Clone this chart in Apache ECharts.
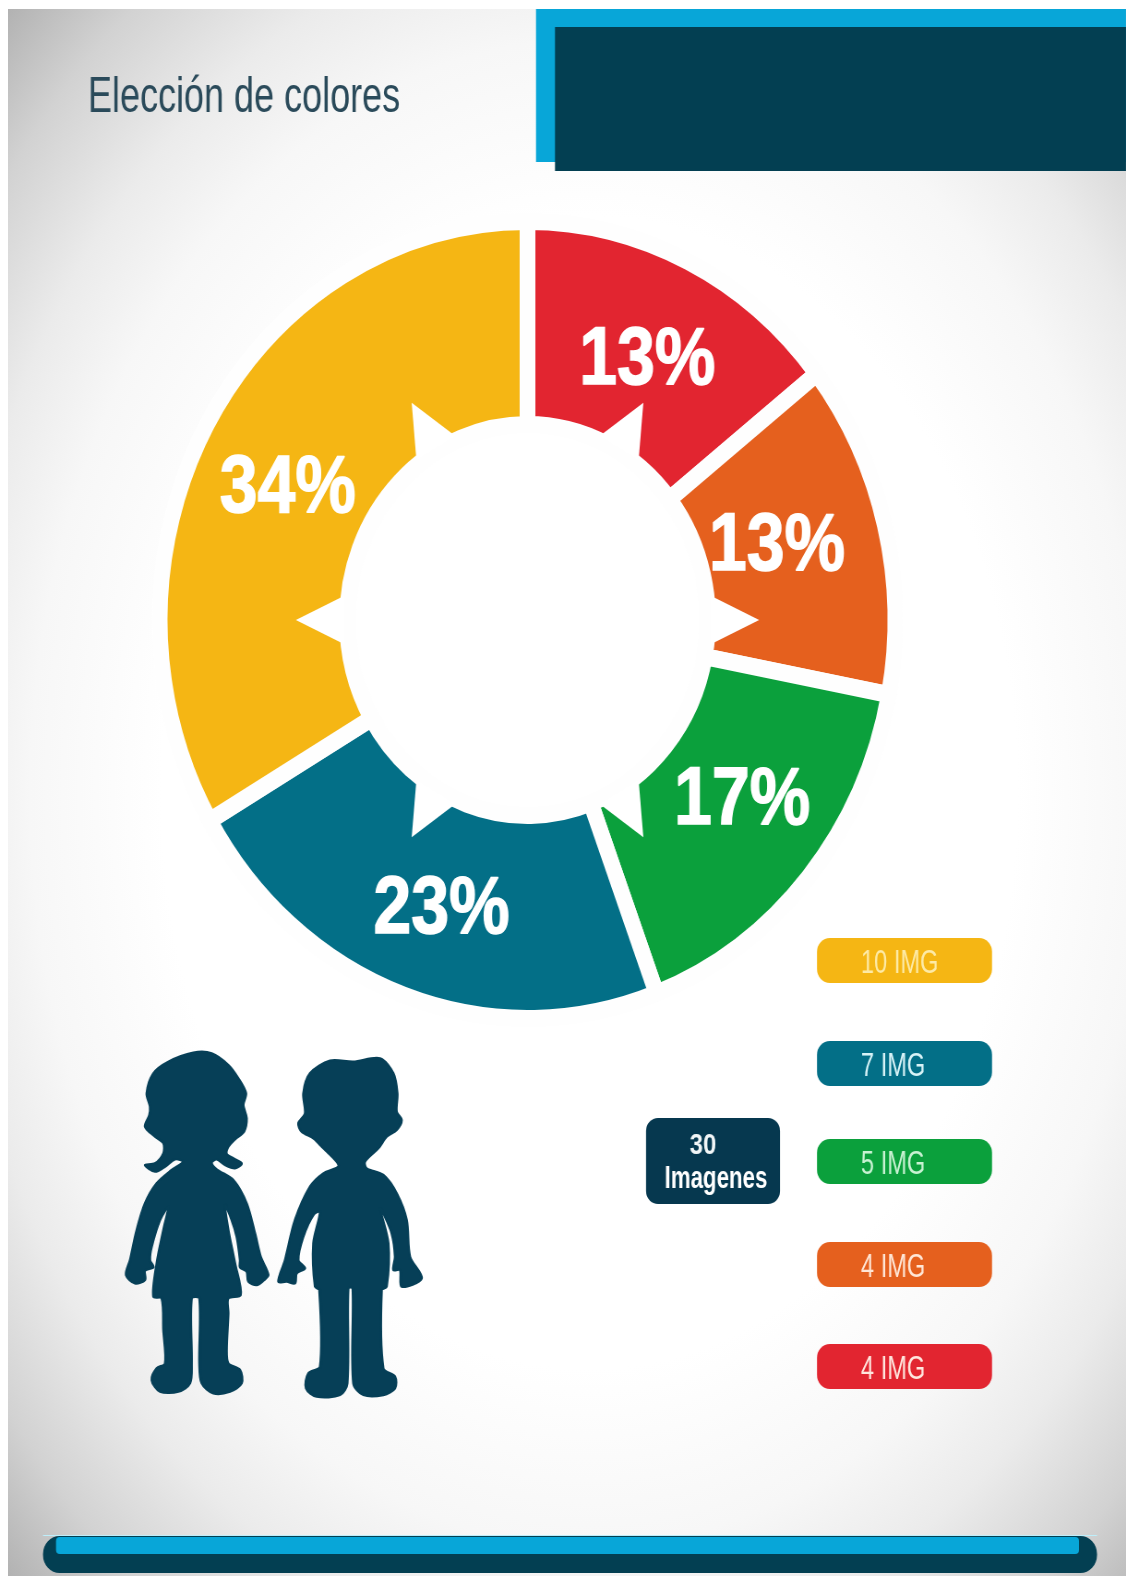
<!DOCTYPE html>
<html><head><meta charset="utf-8">
<style>
html,body{margin:0;padding:0;width:1126px;height:1576px;overflow:hidden;background:#fff}
#bg{position:absolute;left:8px;top:9px;width:1118px;height:1567px;
background:radial-gradient(farthest-corner at 52% 50%,#fff 0%,#fff 52%,#f7f7f7 68%,#ebebeb 78%,#d2d2d2 90%,#b2b2b2 100%)}
#c{position:absolute;left:0;top:0;width:1220px;height:1576px;transform:scaleX(0.923);transform-origin:0 0}
</style>
<script src="https://cdn.jsdelivr.net/npm/echarts@6/dist/echarts.min.js"></script>
</head><body><div id="bg"></div><div id="c"></div>
<script>
// Data
const sliceNames = ['Rojo','Naranja','Verde','Azul','Amarillo'];
const sliceShares = [14.4,13.6,16.3,22.3,33.4];
const percentLabels = ['13%','13%','17%','23%','34%'];
const legendNames = ['Amarillo','Azul','Verde','Naranja','Rojo'];
const legendCounts = [10,7,5,4,4];
const totalCount = 30;
const titleText = 'Elección de colores';

// Style / layout
const S = 0.923, X = p => p / S;
const FONT = '"Liberation Sans",Arial,sans-serif';
const colors = {Rojo:'#e22530',Naranja:'#e5601e',Verde:'#0ba03c',Azul:'#036f87',Amarillo:'#f5b614'};
const legendTextColors = {Rojo:'#ffe6de',Naranja:'#ffe6d6',Verde:'#c8f2d2',Azul:'#d8f3f7',Amarillo:'#fdeaa6'};
const labelOffsets = [[0,9],[-17,-2],[5,-10],[6,11],[-2,18]];
const legendTops = [938,1041,1139,1242,1344];
const DARK = '#033f52', BLUE = '#08a6d8';
const cx = X(527.5), cy = 620, R_IN = 195.5, R_OUT = 398.5, GAP = 17;

const girl = [[280,68],[335,70],[385,105],[415,145],[438,190],[430,225],[440,265],[432,305],[405,328],[385,350],[380,372],[400,385],[425,400],[405,415],[375,405],[350,388],[335,398],[350,418],[400,450],[440,520],[465,610],[482,680],[505,735],[490,752],[470,765],[445,755],[440,725],[420,712],[420,690],[410,620],[395,570],[375,525],[385,600],[405,700],[422,795],[385,805],[385,850],[380,960],[385,1000],[420,1020],[425,1060],[390,1085],[340,1090],[305,1060],[298,1000],[298,805],[275,805],[275,1000],[270,1060],[235,1085],[180,1085],[155,1050],[170,1015],[195,1000],[190,900],[185,805],[160,800],[170,700],[190,600],[205,530],[180,570],[155,650],[150,690],[160,712],[135,722],[135,750],[105,760],[78,735],[90,690],[110,600],[135,520],[170,460],[215,420],[250,395],[225,388],[195,410],[165,425],[135,405],[165,400],[190,370],[190,340],[165,320],[135,290],[148,255],[150,230],[140,190],[160,130],[205,95]];
const boy = [[690,92],[760,95],[840,85],[880,130],[892,190],[890,245],[905,270],[890,300],[860,320],[835,355],[795,395],[800,415],[850,435],[890,490],[920,570],[930,680],[965,745],[905,770],[900,720],[880,720],[885,680],[875,610],[850,550],[840,535],[865,640],[860,770],[845,780],[850,1015],[885,1040],[885,1075],[850,1095],[790,1095],[760,1060],[758,775],[745,775],[742,1060],[720,1095],[650,1100],[618,1075],[625,1030],[660,1010],[658,780],[645,770],[640,640],[660,545],[640,555],[610,620],[595,690],[615,715],[590,730],[585,760],[560,755],[535,755],[555,690],[585,570],[630,470],[670,430],[715,410],[710,395],[660,345],[640,325],[605,305],[595,280],[615,250],[610,190],[630,130]];

const rect = (x,y,w,h,fill,r,z)=>({type:'rect',z:z||1,shape:{x:X(x),y,width:X(w),height:h,r:r||0},style:{fill}});
const txt = (x,y,text,font,fill,align,sx,stroke)=>({type:'text',z:20,x:X(x),y,scaleX:sx||1,
  style:Object.assign({text,font,fill,textAlign:align||'left',textVerticalAlign:'middle'},
    stroke?{stroke:fill,lineWidth:stroke}:{})});

const graphic = [];
graphic.push(rect(536,9,590,153,BLUE));
graphic.push(rect(555,27,571,144,DARK,0,2));
graphic.push(txt(88,98,titleText,'50px '+FONT,'#2a4a5a','left',0.78));

// hole + spikes
graphic.push({type:'circle',z:1,shape:{cx,cy,r:204},style:{fill:'#fff'}});
[30,90,150,210,270,330].forEach(a=>{
  const pt=(deg,r)=>[cx+r*Math.sin(deg*Math.PI/180),cy-r*Math.cos(deg*Math.PI/180)];
  graphic.push({type:'polygon',z:10,shape:{points:[pt(a-7,200),pt(a,251),pt(a+7,200)]},style:{fill:'#fff'}});
});

// percent labels: placed at the mid-radius of each slice, from the slice shares
(function(){
  const total = sliceShares.reduce((a,b)=>a+b,0);
  let acc = 0;
  const mid = (R_IN + R_OUT) / 2;
  sliceShares.forEach((v,i)=>{
    const a = (acc + v/2) / total * 2 * Math.PI; acc += v;
    const px = cx*S + mid*S*Math.sin(a) + labelOffsets[i][0];
    const py = cy - mid*Math.cos(a) + labelOffsets[i][1];
    graphic.push(txt(px,py,percentLabels[i],'bold 81px '+FONT,'#fff','center',0.91,1.5));
  });
})();

// legend pills
legendNames.forEach((n,i)=>{
  graphic.push(rect(817,legendTops[i],175,45,colors[n],14,3));
  graphic.push(txt(861,legendTops[i]+26,legendCounts[i]+' IMG','33px '+FONT,legendTextColors[n],'left',0.775));
});
graphic.push(rect(646,1118,134,86,'#06384f',13,3));
graphic.push(txt(703,1146,String(totalCount),'bold 30px '+FONT,'#f2f6f7','center',0.86));
graphic.push(txt(716,1179,'Imagenes','bold 31px '+FONT,'#fff','center',0.78));

// silhouettes
const silStyle = {fill:'#063f57',stroke:'#063f57',lineWidth:7,lineJoin:'round'};
graphic.push({type:'group',x:X(100),y:1030,scaleX:1/(3*S),scaleY:1/3,z:3,children:[
  {type:'polygon',z:3,shape:{points:girl,smooth:0.3},style:silStyle},
  {type:'polygon',z:3,shape:{points:boy,smooth:0.3},style:silStyle}
]});

// bottom bar
graphic.push(rect(43,1535,1054,1,'#bdeefa',0,2));
graphic.push(rect(43,1536,1054,37,DARK,18,2));
graphic.push(rect(56,1537,1023,17,BLUE,4,3));

const chart = echarts.init(document.getElementById('c'),null,{renderer:'canvas',width:1220,height:1576});
chart.setOption({
  animation:false,
  backgroundColor:'transparent',
  graphic:{elements:graphic},
  series:[{
    type:'pie',z:5,
    center:[cx,cy],
    radius:[R_IN,R_OUT],
    startAngle:90,clockwise:true,
    avoidLabelOverlap:false,
    emphasis:{disabled:true},
    label:{show:false},
    labelLine:{show:false},
    itemStyle:{borderColor:'#fefefe',borderWidth:GAP,borderJoin:'miter'},
    data:sliceNames.map((n,i)=>({name:n,value:sliceShares[i],itemStyle:{color:colors[n]}}))
  }]
});
</script></body></html>
